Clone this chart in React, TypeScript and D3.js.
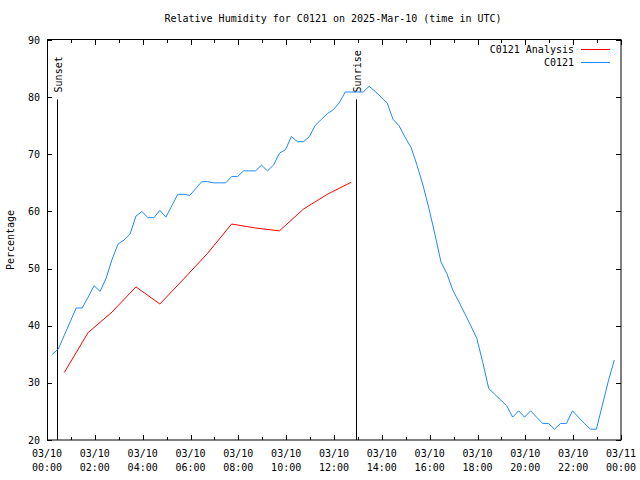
import React from "react";
import * as d3 from "d3";

const W = 640;
const H = 480;
const M = { left: 47, right: 621, top: 40, bottom: 440 };

const title = "Relative Humidity for C0121 on 2025-Mar-10 (time in UTC)";
const yLabel = "Percentage";
const yTicks = [20, 30, 40, 50, 60, 70, 80, 90];
const xMajorHours = [0, 2, 4, 6, 8, 10, 12, 14, 16, 18, 20, 22, 24];
const xMinorHours = [1, 3, 5, 7, 9, 11, 13, 15, 17, 19, 21, 23];
const xTickDates = ["03/10", "03/10", "03/10", "03/10", "03/10", "03/10", "03/10", "03/10", "03/10", "03/10", "03/10", "03/10", "03/11"];
const xTickTimes = ["00:00", "02:00", "04:00", "06:00", "08:00", "10:00", "12:00", "14:00", "16:00", "18:00", "20:00", "22:00", "00:00"];

// C0121 observations: first at 00:13, every 15 minutes
const obsStart = 0.22;
const obsStep = 0.25;
const obsValues = [
  35.0, 35.9, 38.3, 40.7, 43.1, 43.1, 45.0, 47.0, 46.0, 48.3, 51.6, 54.3,
  55.0, 56.0, 59.2, 60.0, 58.9, 58.9, 60.2, 59.0, 61.0, 63.0, 63.0, 62.8,
  64.0, 65.2, 65.2, 65.0, 65.0, 65.0, 66.1, 66.1, 67.1, 67.1, 67.1, 68.1,
  67.1, 68.1, 70.2, 70.8, 73.1, 72.2, 72.2, 73.1, 75.1, 76.1, 77.1, 77.8,
  79.0, 80.9, 80.9, 80.9, 80.9, 81.9, 81.0, 80.0, 79.0, 76.1, 75.0, 73.0,
  71.2, 68.1, 64.6, 60.5, 56.0, 51.2, 49.1, 46.2, 44.2, 42.1, 40.0, 37.8,
  33.6, 29.0, 28.0, 27.0, 26.0, 24.0, 25.1, 24.0, 25.1, 24.0, 22.9, 22.9,
  21.9, 22.9, 22.9, 25.1, 24.0, 22.9, 21.9, 21.9, 26.1, 30.3, 34.0,
];

// C0121 Analysis: hourly at :43
const anaHours = [0.72, 1.72, 2.72, 3.72, 4.72, 5.72, 6.72, 7.72, 8.72, 9.72, 10.72, 11.72, 12.72];
const anaValues = [31.8, 38.8, 42.4, 46.8, 43.8, 48.2, 52.7, 57.8, 57.1, 56.6, 60.4, 63.0, 65.1];

const sunEvents = [
  { label: "Sunset", hour: 0.405 },
  { label: "Sunrise", hour: 12.93 },
];
const sunLineTop = 79.6;

const FONT = "'DejaVu Sans Mono', 'Liberation Mono', monospace";

export default function App() {
  const x = d3.scaleLinear().domain([0, 24]).range([M.left, M.right]);
  const y = d3.scaleLinear().domain([20, 90]).range([M.bottom, M.top]);

  const obs = obsValues.map((v, i) => [obsStart + i * obsStep, v] as [number, number]);
  const ana = anaHours.map((h, i) => [h, anaValues[i]] as [number, number]);
  const line = d3
    .line<[number, number]>()
    .x((d) => x(d[0]))
    .y((d) => y(d[1]));

  const fs = 10;
  return (
    <svg
      width={W}
      height={H}
      style={{ position: "absolute", left: 0, top: 0, background: "#fff" }}
      fontFamily={FONT}
      fontSize={fs}
    >
      <rect x={0} y={0} width={W} height={H} fill="#fff" />
      <text x={(M.left + M.right) / 2 - 1} y={22} textAnchor="middle" fill="#000">
        {title}
      </text>
      <text
        transform={`translate(14,${(M.top + M.bottom) / 2}) rotate(-90)`}
        textAnchor="middle"
        fill="#000"
      >
        {yLabel}
      </text>

      {/* y ticks */}
      {yTicks.map((t) => (
        <g key={"y" + t}>
          <line x1={M.left} x2={M.left + 5} y1={Math.round(y(t)) + 0.5} y2={Math.round(y(t)) + 0.5} stroke="#000" />
          <line x1={M.right - 5} x2={M.right} y1={Math.round(y(t)) + 0.5} y2={Math.round(y(t)) + 0.5} stroke="#000" />
          <text x={40} y={y(t) + 3.5} textAnchor="end" fill="#000">
            {t}
          </text>
        </g>
      ))}

      {/* x ticks */}
      {xMajorHours.map((h, i) => {
        const px = Math.round(x(h)) + 0.5;
        return (
          <g key={"xm" + h}>
            <line x1={px} x2={px} y1={M.bottom} y2={M.bottom - 5} stroke="#000" />
            <line x1={px} x2={px} y1={M.top} y2={M.top + 5} stroke="#000" />
            <text x={x(h)} y={457} textAnchor="middle" fill="#000">
              {xTickDates[i]}
            </text>
            <text x={x(h)} y={471} textAnchor="middle" fill="#000">
              {xTickTimes[i]}
            </text>
          </g>
        );
      })}
      {xMinorHours.map((h) => {
        const px = Math.round(x(h)) + 0.5;
        return (
          <g key={"xn" + h}>
            <line x1={px} x2={px} y1={M.bottom} y2={M.bottom - 3} stroke="#000" />
            <line x1={px} x2={px} y1={M.top} y2={M.top + 3} stroke="#000" />
          </g>
        );
      })}

      {/* sunrise / sunset */}
      {sunEvents.map((s) => {
        const px = Math.round(x(s.hour)) + 0.5;
        return (
          <g key={s.label}>
            <line x1={px} x2={px} y1={y(sunLineTop)} y2={M.bottom} stroke="#000" />
            <text
              transform={`translate(${px + 4},${y(sunLineTop) - 7}) rotate(-90)`}
              textAnchor="start"
              fill="#000"
            >
              {s.label}
            </text>
          </g>
        );
      })}

      <path d={line(ana) || ""} fill="none" stroke="#ff0000" strokeWidth={1} />
      <path d={line(obs) || ""} fill="none" stroke="#1e88ff" strokeWidth={1} />

      {/* legend */}
      <text x={574} y={53} textAnchor="end" fill="#000">
        C0121 Analysis
      </text>
      <line x1={581} x2={610} y1={49.5} y2={49.5} stroke="#ff0000" />
      <text x={574} y={66} textAnchor="end" fill="#000">
        C0121
      </text>
      <line x1={581} x2={610} y1={62.5} y2={62.5} stroke="#1e88ff" />

      {/* border */}
      <rect
        x={M.left + 0.5}
        y={M.top - 0.5}
        width={M.right - M.left - 0.5}
        height={M.bottom - M.top + 0.5}
        fill="none"
        stroke="#000"
      />
    </svg>
  );
}
